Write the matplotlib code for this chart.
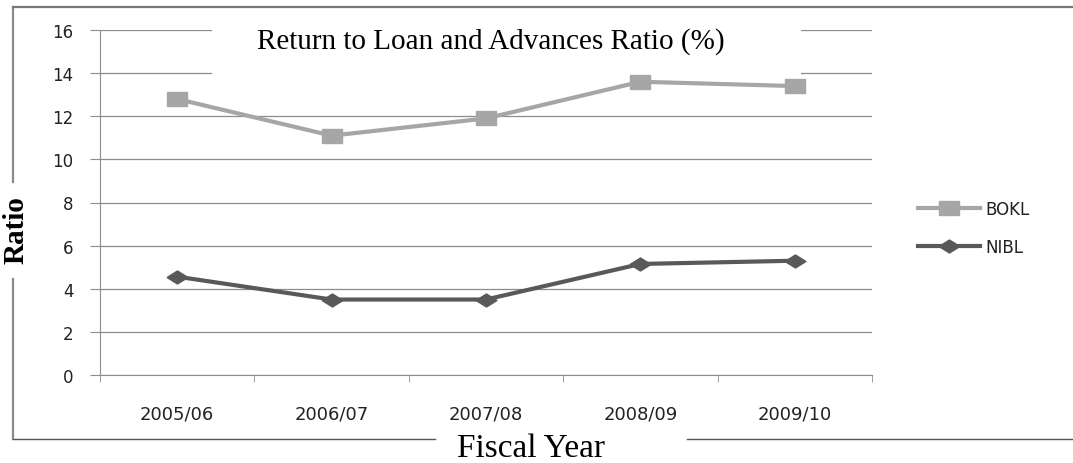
import numpy as np
import matplotlib
matplotlib.use('Agg')
import matplotlib.pyplot as plt
from matplotlib.lines import Line2D
from matplotlib.patches import Rectangle

plt.rcParams['font.family'] = 'DejaVu Sans'

years = ['2005/06', '2006/07', '2007/08', '2008/09', '2009/10']
bokl = [12.8, 11.1, 11.9, 13.6, 13.4]
nibl = [4.56, 3.5, 3.5, 5.15, 5.3]
yticks = [0, 2, 4, 6, 8, 10, 12, 14, 16]

W, H = 1073, 464
fig = plt.figure(figsize=(W / 100, H / 100), dpi=100)
ax = fig.add_axes([100 / W, 1 - 376 / H, 772 / W, 345 / H])

# wide, flat markers like the original (stretched picture)
sq = [(-1.6, -1), (1.6, -1), (1.6, 1), (-1.6, 1), (-1.6, -1)]
dia = [(-1.6, 0), (0, -1), (1.6, 0), (0, 1), (-1.6, 0)]

x = np.arange(len(years))
ax.plot(x, bokl, color='#a6a6a6', lw=3, marker=sq, ms=15, label='BOKL', zorder=3)
ax.plot(x, nibl, color='#595959', lw=3, marker=dia, ms=15, label='NIBL', zorder=3)

ax.set_xlim(-0.5, len(years) - 0.5)
ax.set_ylim(0, 16)
ax.set_yticks(yticks)
ax.set_xticks(x)
ax.set_xticklabels(years)
ax.set_xticks(np.arange(-0.5, len(years)), minor=True)
ax.tick_params(axis='x', which='major', length=0, pad=21, labelsize=13, labelcolor='#222222')
ax.tick_params(axis='x', which='minor', length=5, color='#8c8c8c', direction='out')
ax.tick_params(axis='y', length=7, color='#8c8c8c', pad=12, labelsize=12, labelcolor='#222222')
ax.grid(axis='y', color='#8c8c8c', lw=0.9)
ax.set_axisbelow(True)
for s in ['top', 'right']:
    ax.spines[s].set_visible(False)
for s in ['left', 'bottom']:
    ax.spines[s].set_color('#8c8c8c')

# white box behind the title that hides the top gridlines
x0 = (212 - 100) / 772
x1 = (801 - 100) / 772
y0 = (376 - 79) / 345
ax.add_patch(Rectangle((x0, y0), x1 - x0, 1.05 - y0, transform=ax.transAxes,
                       facecolor='white', edgecolor='none', zorder=2.5, clip_on=False))
ax.text((491 - 100) / 772, (376 - 42) / 345, 'Return to Loan and Advances Ratio (%)',
        transform=ax.transAxes, ha='center', va='center', family='Liberation Serif',
        fontsize=21, zorder=4)

leg = fig.legend(loc='upper left', bbox_to_anchor=(918 / W, 1 - 201 / H), frameon=False,
                 fontsize=12, handlelength=3.7, labelspacing=1.2, handletextpad=0.35,
                 borderpad=0, borderaxespad=0)
for t in leg.get_texts():
    t.set_color('#222222')

# outer frame with gaps for the axis titles
fc = '#8a8a8a'
fig.add_artist(Line2D([13 / W, 13 / W], [1 - 8 / H, 1 - 183 / H], color=fc, lw=1.6))
fig.add_artist(Line2D([13 / W, 13 / W], [1 - 280 / H, 1 - 440 / H], color=fc, lw=1.6))
fig.add_artist(Line2D([13 / W, 1], [1 - 8 / H, 1 - 8 / H], color='#777777', lw=1.6))
fig.add_artist(Line2D([13 / W, 435 / W], [1 - 440 / H, 1 - 440 / H], color='#555555', lw=1.0))
fig.add_artist(Line2D([687 / W, 1], [1 - 440 / H, 1 - 440 / H], color='#555555', lw=1.0))

fig.text(16 / W, 1 - 230 / H, 'Ratio', rotation=90, ha='center', va='center',
         family='Liberation Serif', fontweight='bold', fontsize=21)
fig.text(531 / W, 1 - 449 / H, 'Fiscal Year', ha='center', va='center',
         family='Liberation Serif', fontsize=24)

fig.savefig('out.png', dpi=100)
